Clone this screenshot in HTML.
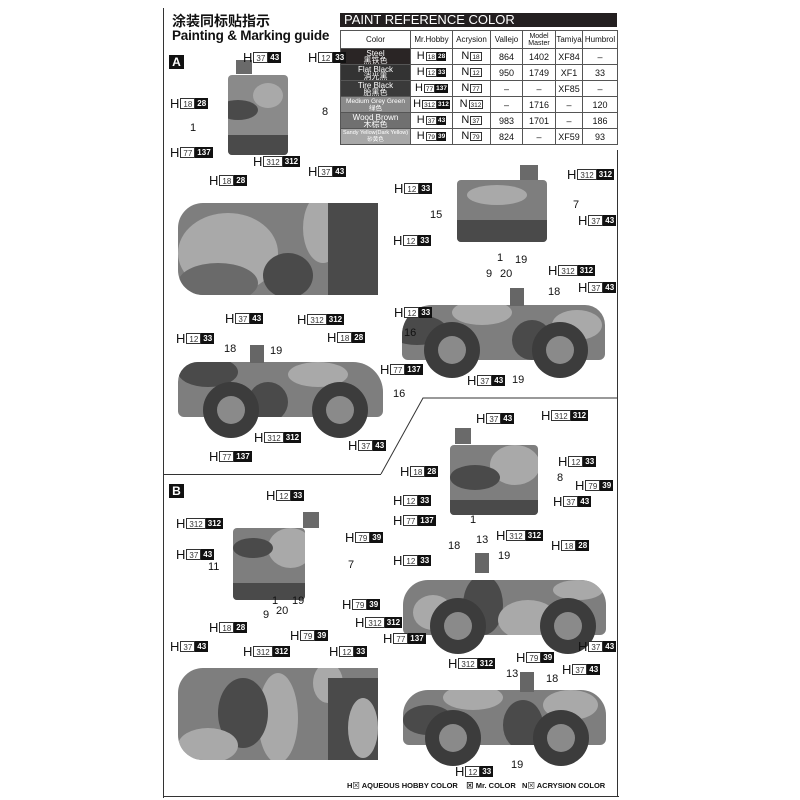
<!DOCTYPE html>
<html><head><meta charset="utf-8">
<style>
*{margin:0;padding:0;box-sizing:border-box}
body{width:800px;height:800px;background:#fff;position:relative;overflow:hidden;font-family:"Liberation Sans","Noto Sans CJK SC",sans-serif;color:#111}
.a{position:absolute}
.l{position:absolute;font-size:13px;line-height:13px;white-space:nowrap;display:flex;align-items:center}
.l b,.l i{display:inline-block;font-size:8px;line-height:9px;height:11px;padding:1px 2px;font-style:normal;font-weight:bold}
.l b{border:1px solid #333;font-weight:normal;margin-left:1px;color:#333;background:#fff}
.l i{background:#111;color:#fff}
.n{position:absolute;font-size:11px}
.v{position:absolute;background:#7e7e7e;overflow:hidden}
.v span{position:absolute;border-radius:50%}
.d{background:#4a4a4a}.g{background:#a9a9a9}.m{background:#6a6a6a}
.w{position:absolute;border-radius:50%;background:#3c3c3c}
.w:after{content:"";position:absolute;left:25%;top:25%;width:50%;height:50%;border-radius:50%;background:#8a8a8a}
table{border-collapse:collapse;font-size:9px;text-align:center;table-layout:fixed;width:277px}
td{border:1px solid #555;height:16px;padding:0;overflow:hidden;white-space:nowrap}
.c{color:#fff;font-size:8px;line-height:7px}
.t{display:inline-flex;align-items:center;font-size:11px;line-height:11px}
.t b,.t i{display:inline-block;font-size:6.5px;line-height:7px;height:9px;padding:1px 1px;font-style:normal;font-weight:bold}
.t b{border:1px solid #333;font-weight:normal;margin-left:1px}
.t i{background:#111;color:#fff}
</style></head><body>
<div class="a" style="left:163px;top:8px;width:1px;height:790px;background:#333"></div>
<div class="a" style="left:163px;top:796px;width:456px;height:1px;background:#333"></div>
<div class="a" style="left:617px;top:150px;width:1px;height:647px;background:#333"></div>
<div class="a" style="left:163px;top:474px;width:218px;height:1px;background:#333"></div>
<svg class="a" style="left:0;top:0" width="800" height="800"><polyline points="381,474 423,398 618,398" fill="none" stroke="#333" stroke-width="1"/></svg>
<div class="a" style="left:172px;top:11px;font-size:14px;font-weight:bold">涂装同标贴指示</div>
<div class="a" style="left:172px;top:28px;font-size:13.5px;font-weight:bold;letter-spacing:-0.2px">Painting &amp; Marking guide</div>
<div class="a" style="left:169px;top:55px;width:15px;height:14px;background:#111;color:#fff;font-weight:bold;font-size:12px;text-align:center;line-height:14px">A</div>
<div class="a" style="left:169px;top:484px;width:15px;height:14px;background:#111;color:#fff;font-weight:bold;font-size:12px;text-align:center;line-height:14px">B</div>
<div class="a" style="left:340px;top:13px;width:277px;height:14px;background:#231f20;color:#fff;font-size:13px;line-height:14px;padding-left:4px">PAINT REFERENCE COLOR</div>
<table class="a" style="left:340px;top:30px">
<colgroup><col style="width:70px"><col style="width:42px"><col style="width:38px"><col style="width:32px"><col style="width:33px"><col style="width:27px"><col style="width:35px"></colgroup>
<tr style="height:18px"><td style="font-size:8px">Color</td><td style="font-size:8px">Mr.Hobby</td><td style="font-size:8px">Acrysion</td><td style="font-size:8px">Vallejo</td><td style="font-size:7px;line-height:7px">Model<br>Master</td><td style="font-size:8px">Tamiya</td><td style="font-size:8px">Humbrol</td></tr>
<tr><td class="c" style="background:#2a2525">Steel<br>黑铁色</td><td><span class="t">H<b>18</b><i>28</i></span></td><td><span class="t">N<b>18</b></span></td><td>864</td><td>1402</td><td>XF84</td><td>–</td></tr>
<tr><td class="c" style="background:#333">Flat Black<br>消光黑</td><td><span class="t">H<b>12</b><i>33</i></span></td><td><span class="t">N<b>12</b></span></td><td>950</td><td>1749</td><td>XF1</td><td>33</td></tr>
<tr><td class="c" style="background:#3a3a3a">Tire Black<br>胎黑色</td><td><span class="t">H<b>77</b><i>137</i></span></td><td><span class="t">N<b>77</b></span></td><td>–</td><td>–</td><td>XF85</td><td>–</td></tr>
<tr><td class="c" style="background:#8a8a8a;font-size:6.5px">Medium Grey Green<br>绿色</td><td><span class="t">H<b>312</b><i>312</i></span></td><td><span class="t">N<b>312</b></span></td><td>–</td><td>1716</td><td>–</td><td>120</td></tr>
<tr><td class="c" style="background:#707070">Wood Brown<br>木棕色</td><td><span class="t">H<b>37</b><i>43</i></span></td><td><span class="t">N<b>37</b></span></td><td>983</td><td>1701</td><td>–</td><td>186</td></tr>
<tr><td class="c" style="background:#a8a8a8;font-size:5.5px">Sandy Yellow(Dark Yellow)<br>砂黄色</td><td><span class="t">H<b>79</b><i>39</i></span></td><td><span class="t">N<b>79</b></span></td><td>824</td><td>–</td><td>XF59</td><td>93</td></tr>
</table>

<div class="v" style="left:228px;top:75px;width:60px;height:80px;background:#8a8a8a;border-radius:4px"><span class="d" style="left:-10px;top:25px;width:40px;height:20px"></span><span class="g" style="left:25px;top:8px;width:30px;height:25px"></span><span class="d" style="left:0;top:60px;width:60px;height:25px;border-radius:0"></span></div>
<div class="v" style="left:236px;top:60px;width:16px;height:14px;background:#6a6a6a"></div>
<div class="v" style="left:178px;top:203px;width:200px;height:92px;border-radius:25px 0 0 25px"><span class="g" style="left:0;top:10px;width:100px;height:80px"></span><span class="g" style="left:125px;top:-10px;width:40px;height:70px"></span><span class="d" style="left:85px;top:50px;width:50px;height:45px"></span><span class="d" style="left:150px;top:0;width:55px;height:92px;border-radius:0"></span><span class="m" style="left:0;top:60px;width:80px;height:40px"></span></div>
<div class="v" style="left:457px;top:180px;width:90px;height:62px;border-radius:4px"><span class="g" style="left:10px;top:5px;width:60px;height:20px"></span><span class="d" style="left:0;top:40px;width:90px;height:25px;border-radius:0"></span></div>
<div class="v" style="left:520px;top:165px;width:18px;height:15px;background:#6a6a6a"></div>
<div class="v" style="left:402px;top:305px;width:203px;height:55px;border-radius:30px 20px 6px 6px"><span class="d" style="left:-15px;top:10px;width:60px;height:30px"></span><span class="g" style="left:50px;top:-5px;width:60px;height:25px"></span><span class="d" style="left:110px;top:15px;width:40px;height:40px"></span><span class="g" style="left:150px;top:5px;width:50px;height:30px"></span></div>
<div class="w" style="left:424px;top:322px;width:56px;height:56px"></div>
<div class="w" style="left:532px;top:322px;width:56px;height:56px"></div>
<div class="a" style="left:510px;top:288px;width:14px;height:18px;background:#666"></div>
<div class="v" style="left:178px;top:362px;width:205px;height:55px;border-radius:20px 30px 6px 6px"><span class="d" style="left:0;top:-5px;width:60px;height:30px"></span><span class="g" style="left:110px;top:0;width:60px;height:25px"></span><span class="d" style="left:70px;top:20px;width:40px;height:40px"></span></div>
<div class="w" style="left:203px;top:382px;width:56px;height:56px"></div>
<div class="w" style="left:312px;top:382px;width:56px;height:56px"></div>
<div class="a" style="left:250px;top:345px;width:14px;height:18px;background:#666"></div>
<div class="v" style="left:450px;top:445px;width:88px;height:70px;border-radius:4px"><span class="g" style="left:40px;top:0;width:50px;height:40px"></span><span class="d" style="left:0;top:20px;width:50px;height:25px"></span><span class="d" style="left:0;top:55px;width:88px;height:20px;border-radius:0"></span></div>
<div class="v" style="left:455px;top:428px;width:16px;height:16px;background:#6a6a6a"></div>
<div class="v" style="left:233px;top:528px;width:72px;height:72px;border-radius:4px"><span class="g" style="left:35px;top:0;width:45px;height:40px"></span><span class="d" style="left:0;top:10px;width:40px;height:20px"></span><span class="d" style="left:0;top:55px;width:72px;height:20px;border-radius:0"></span></div>
<div class="v" style="left:303px;top:512px;width:16px;height:16px;background:#6a6a6a"></div>
<div class="v" style="left:403px;top:580px;width:203px;height:55px;border-radius:25px 25px 6px 6px"><span class="g" style="left:10px;top:15px;width:40px;height:35px"></span><span class="d" style="left:60px;top:-5px;width:40px;height:60px"></span><span class="g" style="left:95px;top:20px;width:60px;height:40px"></span><span class="g" style="left:150px;top:0;width:50px;height:20px"></span></div>
<div class="w" style="left:430px;top:598px;width:56px;height:56px"></div>
<div class="w" style="left:540px;top:598px;width:56px;height:56px"></div>
<div class="a" style="left:475px;top:553px;width:14px;height:20px;background:#666"></div>
<div class="v" style="left:178px;top:668px;width:200px;height:92px;border-radius:25px 0 0 25px"><span class="g" style="left:80px;top:5px;width:40px;height:90px"></span><span class="d" style="left:40px;top:10px;width:50px;height:70px"></span><span class="g" style="left:0;top:60px;width:60px;height:35px"></span><span class="g" style="left:135px;top:-5px;width:30px;height:40px"></span><span class="d" style="left:150px;top:10px;width:55px;height:85px;border-radius:0"></span><span class="g" style="left:170px;top:30px;width:30px;height:60px"></span></div>
<div class="v" style="left:403px;top:690px;width:203px;height:55px;border-radius:25px 25px 6px 6px"><span class="d" style="left:0;top:15px;width:50px;height:30px"></span><span class="g" style="left:40px;top:-5px;width:60px;height:25px"></span><span class="d" style="left:100px;top:10px;width:40px;height:50px"></span><span class="g" style="left:140px;top:0;width:55px;height:30px"></span></div>
<div class="w" style="left:425px;top:710px;width:56px;height:56px"></div>
<div class="w" style="left:533px;top:710px;width:56px;height:56px"></div>
<div class="a" style="left:520px;top:672px;width:14px;height:20px;background:#666"></div>

<div class="l" style="left:243px;top:51px">H<b>37</b><i>43</i></div>
<div class="l" style="left:308px;top:51px">H<b>12</b><i>33</i></div>
<div class="l" style="left:170px;top:97px">H<b>18</b><i>28</i></div>
<div class="n" style="left:322px;top:106px">8</div>
<div class="n" style="left:190px;top:122px">1</div>
<div class="l" style="left:170px;top:146px">H<b>77</b><i>137</i></div>
<div class="l" style="left:253px;top:155px">H<b>312</b><i>312</i></div>
<div class="l" style="left:308px;top:165px">H<b>37</b><i>43</i></div>
<div class="l" style="left:209px;top:174px">H<b>18</b><i>28</i></div>
<div class="l" style="left:393px;top:234px">H<b>12</b><i>33</i></div>
<div class="l" style="left:225px;top:312px">H<b>37</b><i>43</i></div>
<div class="l" style="left:297px;top:313px">H<b>312</b><i>312</i></div>
<div class="l" style="left:394px;top:182px">H<b>12</b><i>33</i></div>
<div class="l" style="left:567px;top:168px">H<b>312</b><i>312</i></div>
<div class="n" style="left:430px;top:209px">15</div>
<div class="n" style="left:573px;top:199px">7</div>
<div class="l" style="left:578px;top:214px">H<b>37</b><i>43</i></div>
<div class="n" style="left:497px;top:252px">1</div>
<div class="n" style="left:515px;top:254px">19</div>
<div class="n" style="left:486px;top:268px">9</div>
<div class="n" style="left:500px;top:268px">20</div>
<div class="l" style="left:548px;top:264px">H<b>312</b><i>312</i></div>
<div class="l" style="left:578px;top:281px">H<b>37</b><i>43</i></div>
<div class="n" style="left:548px;top:286px">18</div>
<div class="l" style="left:394px;top:306px">H<b>12</b><i>33</i></div>
<div class="n" style="left:404px;top:327px">16</div>
<div class="l" style="left:380px;top:363px">H<b>77</b><i>137</i></div>
<div class="l" style="left:467px;top:374px">H<b>37</b><i>43</i></div>
<div class="n" style="left:512px;top:374px">19</div>
<div class="l" style="left:176px;top:332px">H<b>12</b><i>33</i></div>
<div class="l" style="left:327px;top:331px">H<b>18</b><i>28</i></div>
<div class="n" style="left:224px;top:343px">18</div>
<div class="n" style="left:270px;top:345px">19</div>
<div class="n" style="left:393px;top:388px">16</div>
<div class="l" style="left:254px;top:431px">H<b>312</b><i>312</i></div>
<div class="l" style="left:348px;top:439px">H<b>37</b><i>43</i></div>
<div class="l" style="left:209px;top:450px">H<b>77</b><i>137</i></div>
<div class="l" style="left:476px;top:412px">H<b>37</b><i>43</i></div>
<div class="l" style="left:541px;top:409px">H<b>312</b><i>312</i></div>
<div class="l" style="left:400px;top:465px">H<b>18</b><i>28</i></div>
<div class="l" style="left:558px;top:455px">H<b>12</b><i>33</i></div>
<div class="n" style="left:557px;top:472px">8</div>
<div class="l" style="left:575px;top:479px">H<b>79</b><i>39</i></div>
<div class="l" style="left:393px;top:494px">H<b>12</b><i>33</i></div>
<div class="l" style="left:553px;top:495px">H<b>37</b><i>43</i></div>
<div class="l" style="left:393px;top:514px">H<b>77</b><i>137</i></div>
<div class="n" style="left:470px;top:514px">1</div>
<div class="l" style="left:266px;top:489px">H<b>12</b><i>33</i></div>
<div class="l" style="left:176px;top:517px">H<b>312</b><i>312</i></div>
<div class="l" style="left:345px;top:531px">H<b>79</b><i>39</i></div>
<div class="l" style="left:176px;top:548px">H<b>37</b><i>43</i></div>
<div class="n" style="left:208px;top:561px">11</div>
<div class="n" style="left:348px;top:559px">7</div>
<div class="n" style="left:272px;top:595px">1</div>
<div class="n" style="left:292px;top:595px">19</div>
<div class="n" style="left:263px;top:609px">9</div>
<div class="n" style="left:276px;top:605px">20</div>
<div class="l" style="left:393px;top:554px">H<b>12</b><i>33</i></div>
<div class="l" style="left:496px;top:529px">H<b>312</b><i>312</i></div>
<div class="l" style="left:551px;top:539px">H<b>18</b><i>28</i></div>
<div class="n" style="left:448px;top:540px">18</div>
<div class="n" style="left:476px;top:534px">13</div>
<div class="n" style="left:498px;top:550px">19</div>
<div class="l" style="left:342px;top:598px">H<b>79</b><i>39</i></div>
<div class="l" style="left:355px;top:616px">H<b>312</b><i>312</i></div>
<div class="l" style="left:383px;top:632px">H<b>77</b><i>137</i></div>
<div class="l" style="left:578px;top:640px">H<b>37</b><i>43</i></div>
<div class="l" style="left:209px;top:621px">H<b>18</b><i>28</i></div>
<div class="l" style="left:170px;top:640px">H<b>37</b><i>43</i></div>
<div class="l" style="left:290px;top:629px">H<b>79</b><i>39</i></div>
<div class="l" style="left:243px;top:645px">H<b>312</b><i>312</i></div>
<div class="l" style="left:329px;top:645px">H<b>12</b><i>33</i></div>
<div class="l" style="left:448px;top:657px">H<b>312</b><i>312</i></div>
<div class="l" style="left:516px;top:651px">H<b>79</b><i>39</i></div>
<div class="l" style="left:562px;top:663px">H<b>37</b><i>43</i></div>
<div class="n" style="left:506px;top:668px">13</div>
<div class="n" style="left:546px;top:673px">18</div>
<div class="n" style="left:511px;top:759px">19</div>
<div class="l" style="left:455px;top:765px">H<b>12</b><i>33</i></div>
<div class="a" style="left:347px;top:780px;font-size:7.5px;font-weight:bold;white-space:nowrap">H<span style="font-weight:normal">⊠</span> AQUEOUS HOBBY COLOR &nbsp;&nbsp;&nbsp;⊠ Mr. COLOR &nbsp;&nbsp;N<span style="font-weight:normal">⊠</span> ACRYSION COLOR</div>
</body></html>
